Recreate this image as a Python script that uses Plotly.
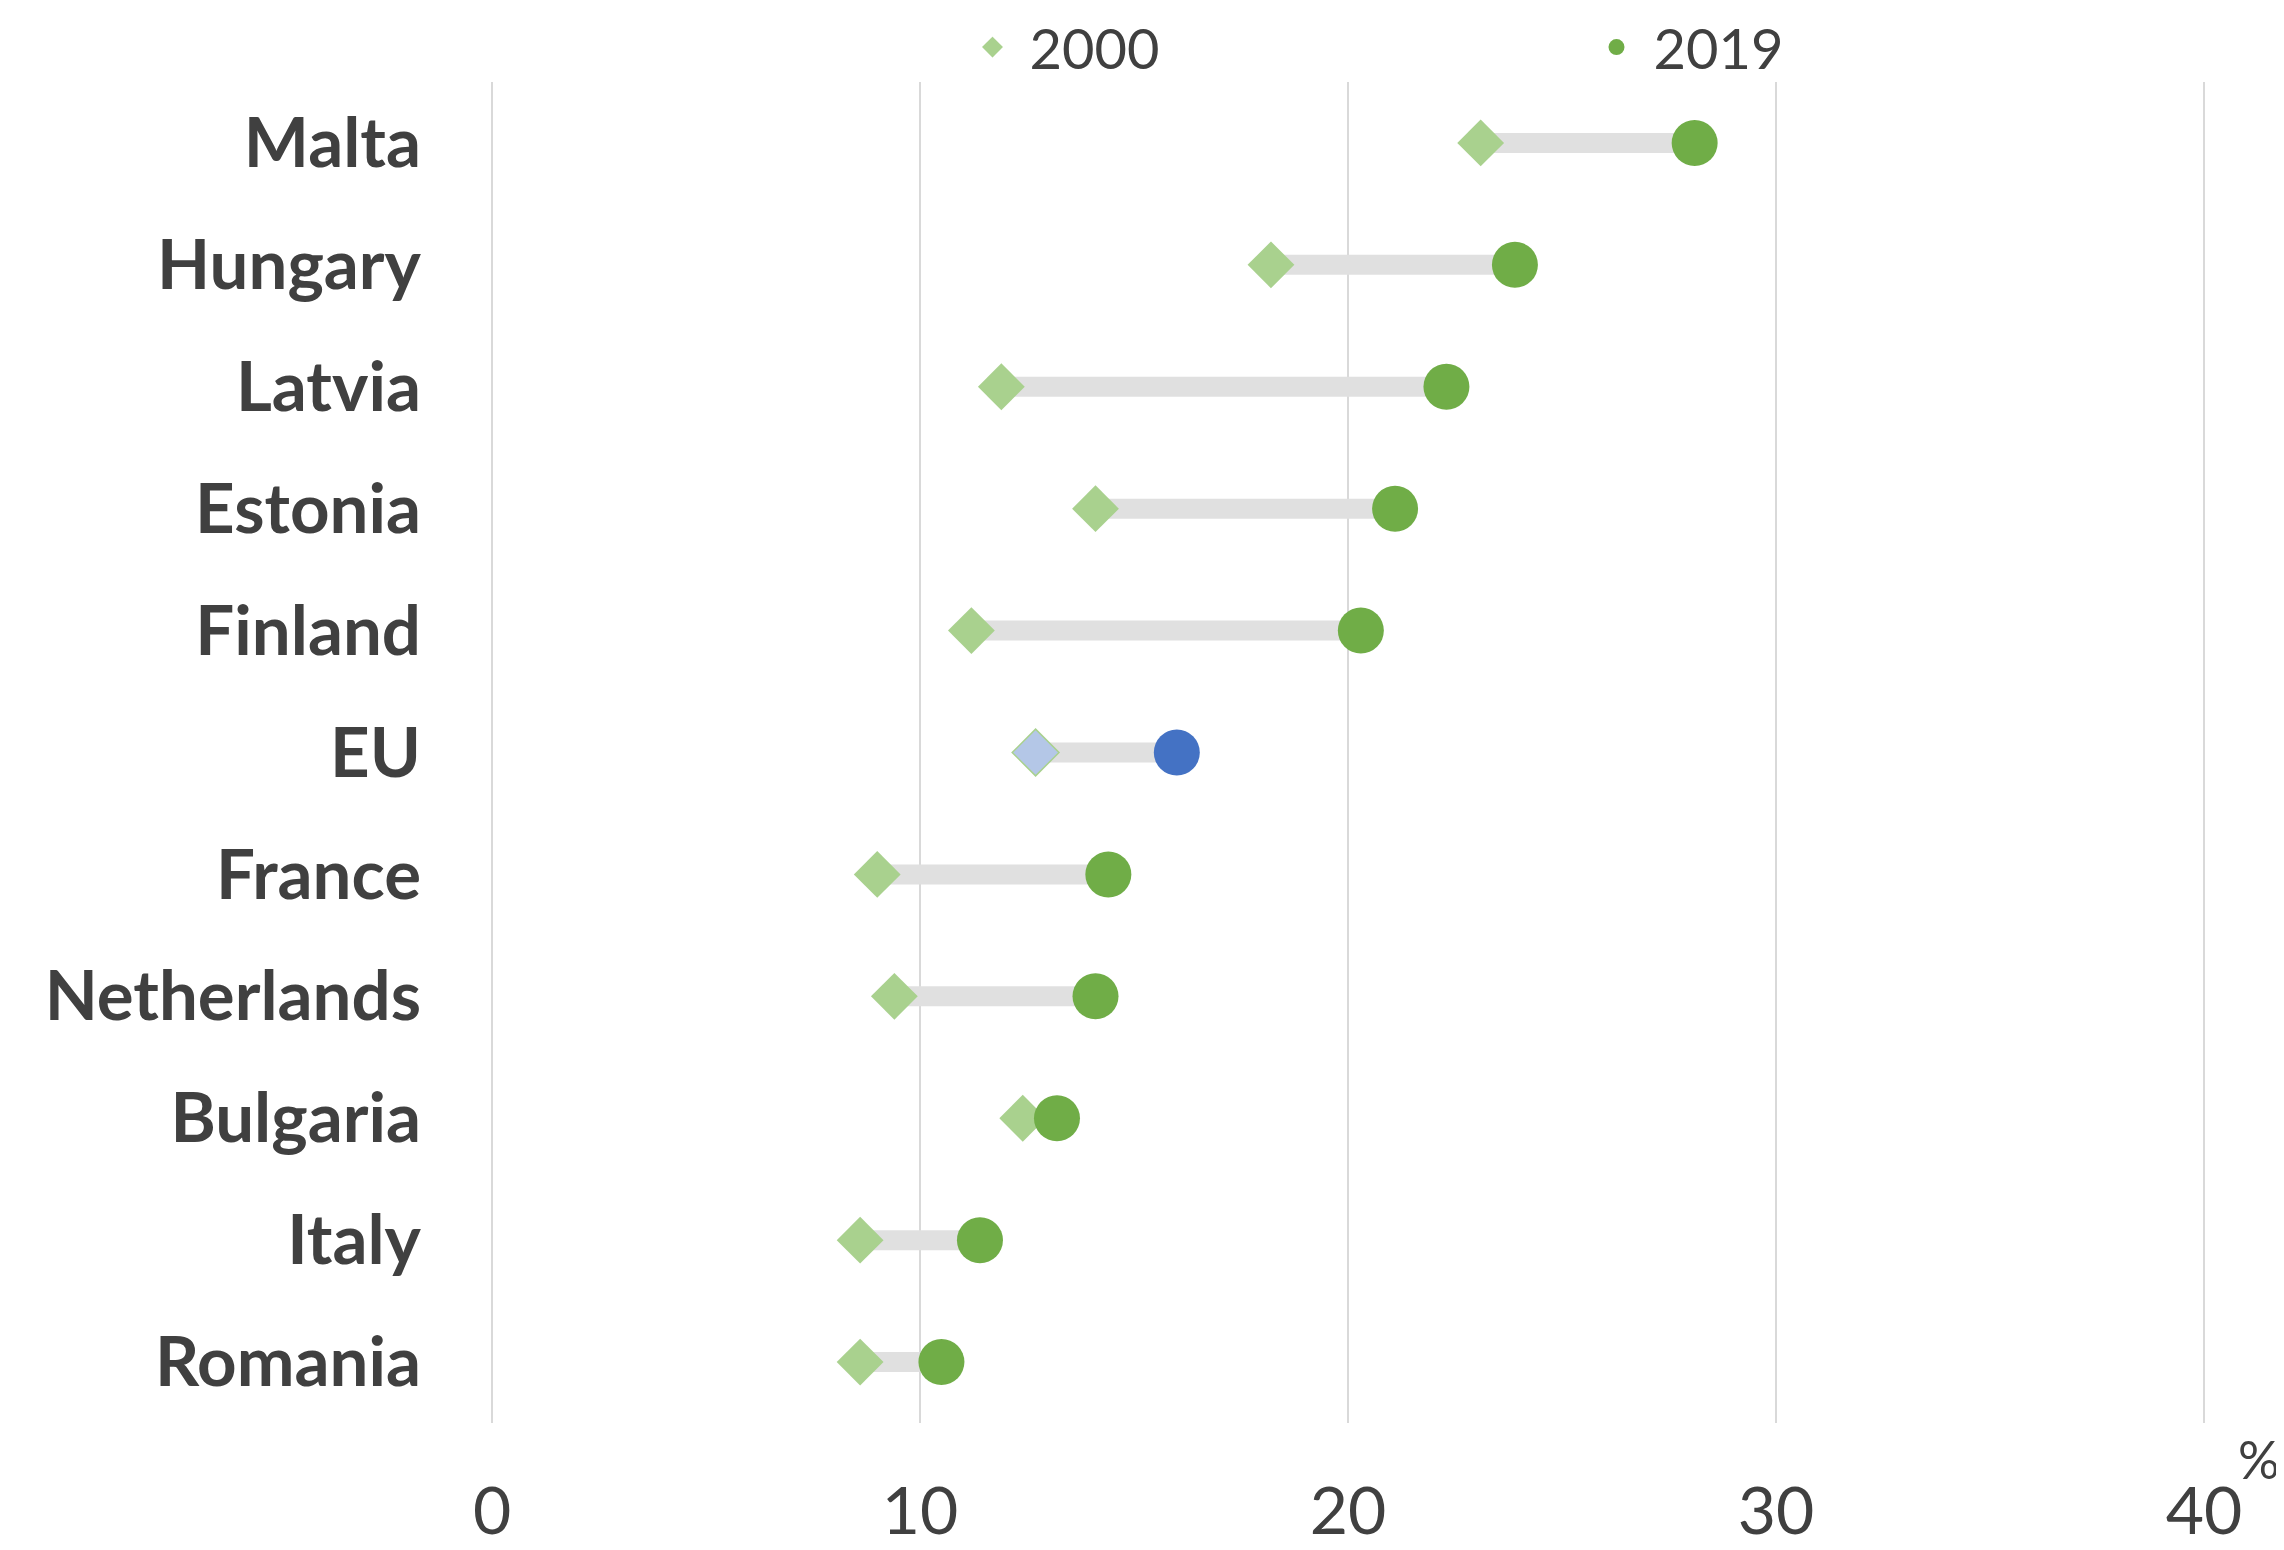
import plotly.graph_objects as go

countries = ["Malta", "Hungary", "Latvia", "Estonia", "Finland", "EU",
             "France", "Netherlands", "Bulgaria", "Italy", "Romania"]
v2000 = [23.1, 18.2, 11.9, 14.1, 11.2, 12.7, 9.0, 9.4, 12.4, 8.6, 8.6]
v2019 = [28.1, 23.9, 22.3, 21.1, 20.3, 16.0, 14.4, 14.1, 13.2, 11.4, 10.5]
x_ticks = [0, 10, 20, 30, 40]

GREEN_LIGHT = "#a9d18e"
GREEN = "#70ad47"
BLUE_LIGHT = "#b4c7e7"
BLUE = "#4472c4"
TEXT = "#404040"
FONT = "Lato"

# connectors
lx, ly = [], []
for c, a, b in zip(countries, v2000, v2019):
    lx += [a, b, None]
    ly += [c, c, None]

c2000 = [BLUE_LIGHT if c == "EU" else GREEN_LIGHT for c in countries]
c2019 = [BLUE if c == "EU" else GREEN for c in countries]
lw2000 = [1.5 if c == "EU" else 0 for c in countries]

fig = go.Figure()
fig.add_trace(go.Scatter(x=lx, y=ly, mode="lines",
                         line=dict(color="#e0e0e0", width=20),
                         showlegend=False, hoverinfo="skip"))
fig.add_trace(go.Scatter(x=v2000, y=countries, mode="markers", name="2000",
                         marker=dict(symbol="diamond", size=36, color=c2000,
                                     line=dict(color=GREEN_LIGHT, width=lw2000))))
fig.add_trace(go.Scatter(x=v2019, y=countries, mode="markers", name="2019",
                         marker=dict(symbol="circle", size=46, color=c2019,
                                     line=dict(width=0))))

# page body has an 8px margin: figure occupies 2276x1542 of the window
fig.update_layout(
    width=2276, height=1542,
    margin=dict(l=483, r=79, t=74, b=127, autoexpand=False),
    paper_bgcolor="white", plot_bgcolor="white",
    font=dict(family=FONT, color=TEXT),
    showlegend=True,
    legend=dict(orientation="h", x=0.271, xanchor="left", y=1.026, yanchor="middle",
                font=dict(size=56, color=TEXT, family=FONT),
                itemwidth=64, entrywidth=545, entrywidthmode="pixels",
                bgcolor="rgba(0,0,0,0)"),
    xaxis=dict(range=[-0.025, 40.025], tickvals=x_ticks, ticktext=[str(t) for t in x_ticks],
               showgrid=True, gridcolor="#d9d9d9", gridwidth=1.5,
               zeroline=True, zerolinecolor="#d9d9d9", zerolinewidth=1.5,
               showline=False, ticks="", ticklabelstandoff=44, automargin=False,
               tickfont=dict(size=66, color=TEXT, family=FONT)),
    yaxis=dict(type="category", categoryorder="array", categoryarray=countries,
               range=[len(countries) - 0.5, -0.5], automargin=False,
               showgrid=False, zeroline=False, showline=False, ticks="",
               ticklabelstandoff=69,
               tickfont=dict(size=69, color=TEXT, family=FONT, weight="bold")),
    annotations=[dict(text="%", x=1.0315, y=0, xref="paper", yref="paper",
                      xanchor="center", yanchor="middle", yshift=-36,
                      showarrow=False, font=dict(size=52, color=TEXT, family=FONT))],
)

fig.write_html("out.html")
